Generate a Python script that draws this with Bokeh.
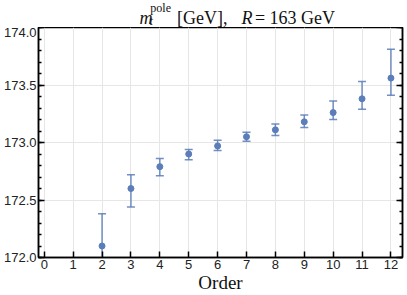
from bokeh.plotting import figure
from bokeh.layouts import column
from bokeh.models import (ColumnDataSource, Whisker, TeeHead, SingleIntervalTicker, LinearAxis,
                          Range1d, NumeralTickFormatter, CustomJSTickFormatter)
from bokeh.core.properties import value
from bokeh.embed import file_html
from bokeh.resources import INLINE

orders = [2, 3, 4, 5, 6, 7, 8, 9, 10, 11, 12]
mass = [172.10, 172.60, 172.79, 172.90, 172.97, 173.05, 173.11, 173.18, 173.26, 173.38, 173.56]
lower = [171.82, 172.44, 172.71, 172.85, 172.93, 173.01, 173.06, 173.13, 173.20, 173.29, 173.41]
upper = [172.38, 172.72, 172.86, 172.94, 173.02, 173.09, 173.16, 173.24, 173.36, 173.53, 173.81]

col = "#5b7db9"
src = ColumnDataSource(dict(x=orders, y=mass, lo=lower, hi=upper))

# ---- title strip (pixel coordinates) ----
t = figure(width=407, height=27, output_backend="svg", toolbar_location=None, title_location=None,
           x_axis_location=None, y_axis_location=None,
           x_range=Range1d(0, 407), y_range=Range1d(0, 27),
           min_border=0, min_border_left=0, min_border_right=0, min_border_top=0, min_border_bottom=0)
t.grid.visible = False
t.outline_line_color = None
t.background_fill_color = "white"
t.border_fill_color = "white"

def piece(x, y, text, size, italic=False):
    t.text(x=[x], y=[y], text=[text], text_font=value("Liberation Serif"),
           text_font_style="italic" if italic else "normal", text_font_size=size,
           text_color="#111111", text_baseline="alphabetic", text_align="left")

fs = "18px"
piece(113, 10, "m", fs, True)
piece(125, 20, "pole", "12px")
piece(124, 7, "t", "12px", True)
piece(155, 10, "[GeV],", fs)
piece(227, 10, "R", fs, True)
piece(242, 10, "= 163 GeV", fs)

# ---- main plot ----
p = figure(width=407, height=268, output_backend="svg", toolbar_location=None, title_location=None,
           x_range=Range1d(-0.2, 12.4), y_range=Range1d(172.0, 174.0), min_border=0,
           min_border_left=37, min_border_right=5, min_border_top=0, min_border_bottom=38)

p.outline_line_color = "black"
p.outline_line_width = 1.5
p.background_fill_color = "white"
p.border_fill_color = "white"

p.xaxis.ticker = SingleIntervalTicker(interval=1, num_minor_ticks=0)
p.yaxis.ticker = SingleIntervalTicker(interval=0.5, num_minor_ticks=5)
p.yaxis.formatter = NumeralTickFormatter(format="0.0")

for ax in (p.xaxis[0], p.yaxis[0]):
    ax.axis_line_color = "black"
    ax.axis_line_width = 1.5
    ax.major_tick_in = 6
    ax.major_tick_out = 0
    ax.minor_tick_in = 3
    ax.minor_tick_out = 0
    ax.major_tick_line_width = 1.5
    ax.minor_tick_line_width = 1.5
    ax.major_tick_line_color = "black"
    ax.minor_tick_line_color = "black"
    ax.major_label_text_font = "Liberation Sans"
    ax.major_label_text_font_size = "13px"
    ax.major_label_text_color = "#222222"
p.yaxis.major_label_standoff = 2
p.xaxis.major_label_standoff = 2

rax = LinearAxis(ticker=SingleIntervalTicker(interval=0.5, num_minor_ticks=5),
                 formatter=CustomJSTickFormatter(code="return ''"),
                 major_label_standoff=0, axis_line_color="black", axis_line_width=1.5,
                 major_tick_in=6, major_tick_out=0, minor_tick_in=3, minor_tick_out=0,
                 major_tick_line_width=1.5, minor_tick_line_width=1.5)
p.add_layout(rax, "right")

p.xaxis.axis_label = "Order"
p.xaxis.axis_label_text_font = "Liberation Serif"
p.xaxis.axis_label_text_font_style = "normal"
p.xaxis.axis_label_text_font_size = "19px"
p.xaxis.axis_label_text_color = "#111111"
p.xaxis.axis_label_standoff = 0

p.xgrid.grid_line_color = "#e6e6e6"
p.ygrid.grid_line_color = "#e6e6e6"
p.xgrid.ticker = SingleIntervalTicker(interval=1, num_minor_ticks=0)

w = Whisker(base="x", lower="lo", upper="hi", source=src, line_color=col, line_width=1.5, line_alpha=0.85,
            upper_head=TeeHead(size=8, line_color=col, line_width=1.5, line_alpha=0.85),
            lower_head=TeeHead(size=8, line_color=col, line_width=1.5, line_alpha=0.85))
p.add_layout(w)
p.scatter("x", "y", source=src, size=6, color=col)

layout = column(t, p, spacing=0)
open("out.html", "w").write(file_html(layout, INLINE))
